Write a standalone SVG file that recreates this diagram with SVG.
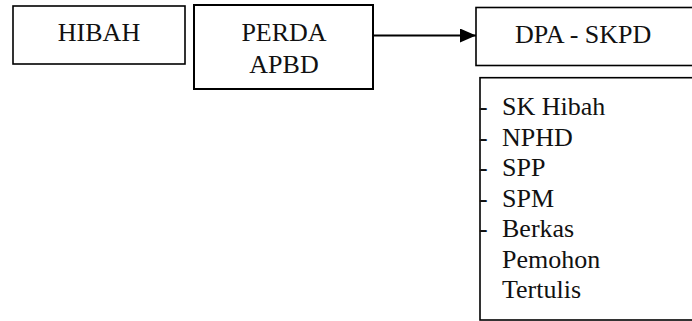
<svg xmlns="http://www.w3.org/2000/svg" width="692" height="321" viewBox="0 0 692 321">
  <style>
    .box { fill: #ffffff; stroke: #000000; stroke-width: 1.6; }
    .txt { font-size: 26px; fill: #111111; }
    .mid { text-anchor: middle; }
    .edge { stroke: #000000; stroke-width: 2; fill: none; }
  </style>
  <defs>
    <marker id="arrow" markerWidth="16" markerHeight="14" refX="16" refY="7" orient="auto" markerUnits="userSpaceOnUse">
      <path d="M0,0 L16,7 L0,14 Z" fill="#000000"/>
    </marker>
  </defs>

  <rect width="692" height="321" fill="#ffffff"/>

  <g font-family="'Liberation Serif', Tinos, 'DejaVu Serif', serif">
    <g id="hibah">
      <rect class="box" x="13" y="6" width="172" height="58"/>
      <text class="txt mid" x="99" y="41">HIBAH</text>
    </g>

    <g id="perda-apbd">
      <rect class="box" x="194" y="5" width="179" height="84" style="stroke-width:2"/>
      <text class="txt mid" x="284" y="41">PERDA</text>
      <text class="txt mid" x="284" y="73">APBD</text>
    </g>

    <g id="dpa-skpd">
      <rect class="box" x="476" y="7.5" width="230" height="58"/>
      <text class="txt" x="515" y="43">DPA - SKPD</text>
    </g>

    <g id="dokumen">
      <rect class="box" x="480" y="77.7" width="230" height="242.3"/>
      <text class="txt" x="479" y="115">-</text>
      <text class="txt" x="502" y="115">SK Hibah</text>
      <text class="txt" x="479" y="145.5">-</text>
      <text class="txt" x="502" y="145.5">NPHD</text>
      <text class="txt" x="479" y="176">-</text>
      <text class="txt" x="502" y="176">SPP</text>
      <text class="txt" x="479" y="206.5">-</text>
      <text class="txt" x="502" y="206.5">SPM</text>
      <text class="txt" x="479" y="237">-</text>
      <text class="txt" x="502" y="237">Berkas</text>
      <text class="txt" x="502" y="267.5">Pemohon</text>
      <text class="txt" x="502" y="298">Tertulis</text>
    </g>
  </g>

  <g id="connectors">
    <line class="edge" x1="373" y1="35.5" x2="476" y2="35.5" marker-end="url(#arrow)"/>
  </g>
</svg>
